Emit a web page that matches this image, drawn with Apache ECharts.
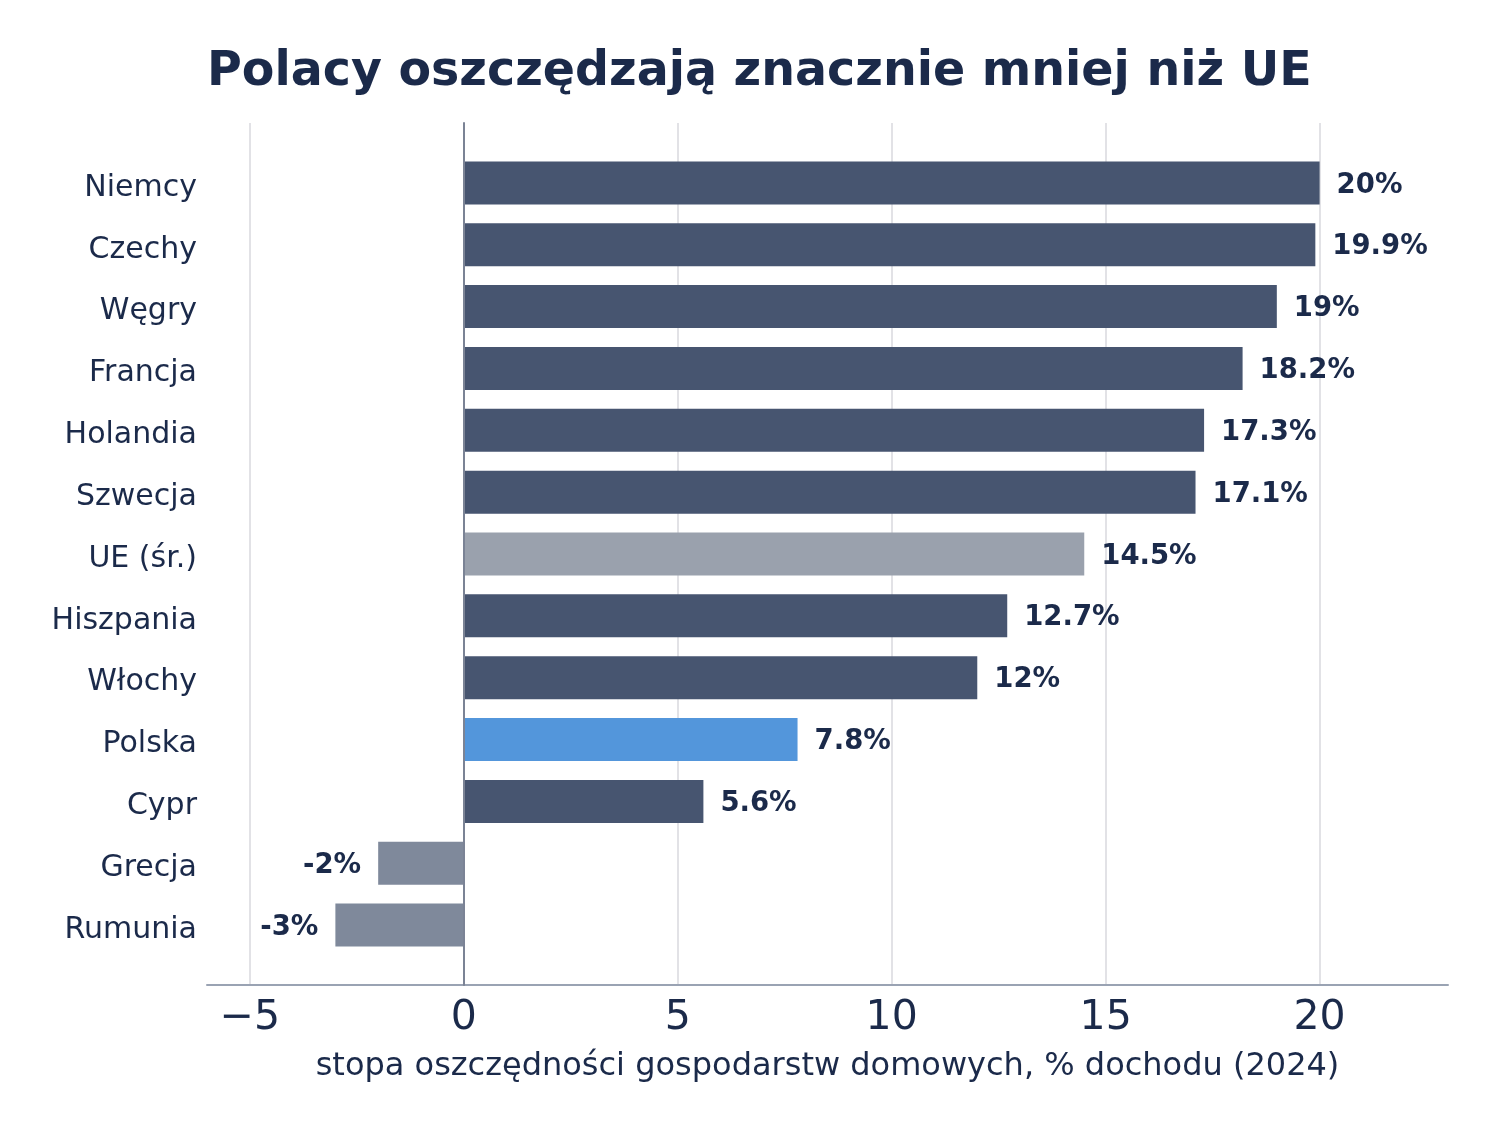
<!DOCTYPE html>
<html>
<head>
<meta charset="utf-8">
<script src="https://cdn.jsdelivr.net/npm/echarts@6/dist/echarts.min.js"></script>
<style>
  html, body { margin: 0; padding: 0; background: #fff; }
  #chart { width: 1497px; height: 1132px; }
</style>
</head>
<body>
<div id="chart"></div>
<script>
// dane: stopa oszczednosci gospodarstw domowych (2024)
const countries = ['Niemcy', 'Czechy', 'Węgry', 'Francja', 'Holandia', 'Szwecja', 'UE (śr.)',
  'Hiszpania', 'Włochy', 'Polska', 'Cypr', 'Grecja', 'Rumunia']
const savings = [20, 19.9, 19, 18.2, 17.3, 17.1, 14.5, 12.7, 12, 7.8, 5.6, -2, -3]
const barKinds = ['kraj', 'kraj', 'kraj', 'kraj', 'kraj', 'kraj', 'ue',
  'kraj', 'kraj', 'pl', 'kraj', 'ujemny', 'ujemny']

const navy = '#1b2a4a'
const kindColors = { kraj: '#475570', ue: '#9aa1ad', pl: '#5396db', ujemny: '#7f899b' }
const font = 'DejaVu Sans'

let dom = echarts.init(document.getElementById('chart'))

let option = {
  backgroundColor: '#fff',
  textStyle: { fontFamily: font },
  title: {
    text: 'Polacy oszczędzają znacznie mniej niż UE',
    left: 202,
    top: 44,
    textStyle: { fontFamily: font, fontSize: 47.5, fontWeight: 'bold', color: navy }
  },
  grid: [
    // siatka z osia X
    { left: 207, right: 49, top: 123, bottom: 147 },
    // slupki
    { left: 207, right: 49, top: 152, bottom: 176 }
  ],
  xAxis: [{
    gridIndex: 0,
    type: 'value',
    min: -6,
    max: 23,
    name: 'stopa oszczędności gospodarstw domowych, % dochodu (2024)',
    nameLocation: 'middle',
    nameGap: 66,
    nameTextStyle: { fontFamily: font, fontSize: 32, color: navy },
    axisLine: { show: true, onZero: false, lineStyle: { color: '#9aa3b3', width: 2 } },
    axisTick: { show: false },
    axisLabel: {
      fontFamily: font,
      fontSize: 41,
      color: navy,
      margin: 13,
      showMinLabel: false,
      showMaxLabel: false,
      formatter: v => String(v).replace('-', '−')
    },
    splitLine: { show: true, showMinLine: false, showMaxLine: false, lineStyle: { color: '#e2e2e6', width: 2 } }
  }, {
    gridIndex: 1,
    type: 'value',
    min: -6,
    max: 23,
    show: false
  }],
  yAxis: [{
    gridIndex: 0,
    type: 'value',
    min: 0,
    max: 1,
    z: 5,
    axisLine: { show: true, onZero: true, lineStyle: { color: '#7b8395', width: 2 } },
    axisTick: { show: false },
    axisLabel: { show: false },
    splitLine: { show: false }
  }, {
    gridIndex: 1,
    type: 'category',
    inverse: true,
    data: countries,
    axisLine: { show: false },
    axisTick: { show: false },
    axisLabel: { fontFamily: font, fontSize: 30, color: navy, margin: 10, verticalAlign: 'top', lineHeight: 10 },
    splitLine: { show: false }
  }],
  series: [{
    type: 'bar',
    xAxisIndex: 1,
    yAxisIndex: 1,
    barWidth: 43,
    data: savings.map((v, i) => ({
      value: v,
      itemStyle: { color: kindColors[barKinds[i]] },
      label: { position: v < 0 ? 'left' : 'right' }
    })),
    label: {
      show: true,
      distance: 17,
      fontFamily: font,
      fontSize: 27.5,
      fontWeight: 'bold',
      color: navy,
      verticalAlign: 'top',
      lineHeight: 5,
      formatter: p => p.value + '%'
    }
  }]
}

dom.setOption(option)
</script>
</body>
</html>
